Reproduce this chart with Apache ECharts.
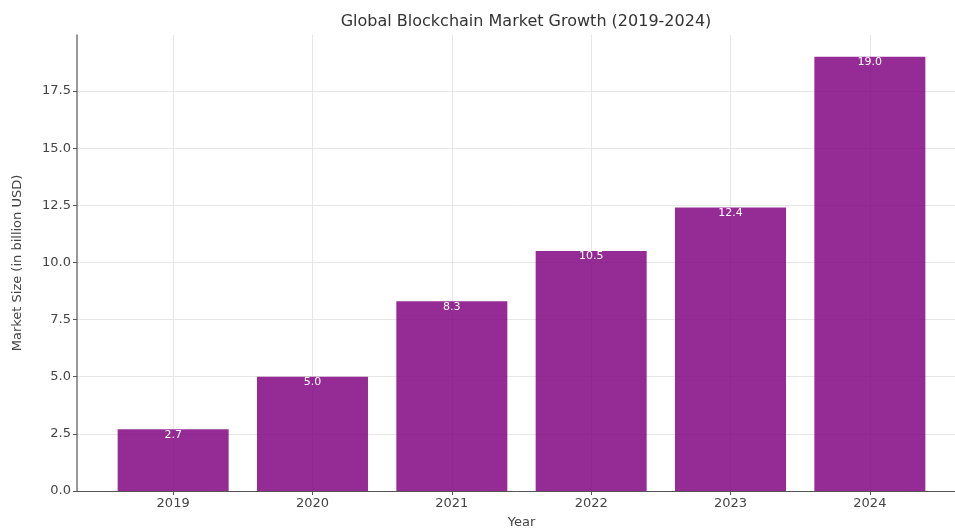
<!DOCTYPE html>
<html>
<head>
<meta charset="utf-8">
<script src="https://cdn.jsdelivr.net/npm/echarts@6/dist/echarts.min.js"></script>
<style>html,body{margin:0;padding:0;background:#fff}#c{width:955px;height:528px}</style>
</head>
<body>
<div id="c"></div>
<script>
const categories = ['2019', '2020', '2021', '2022', '2023', '2024'];
const marketSize = [2.7, 5.0, 8.3, 10.5, 12.4, 19.0];
const yTicks = [0, 2.5, 5, 7.5, 10, 12.5, 15, 17.5];

const font = 'DejaVu Sans';
const chart = echarts.init(document.getElementById('c'), null, {renderer: 'canvas'});
const xPositions = categories.map((_, i) => i);
chart.setOption({
  animation: false,
  backgroundColor: '#ffffff',
  title: {
    text: 'Global Blockchain Market Growth (2019-2024)',
    left: 521, top: 9, textAlign: 'center',
    textStyle: {fontFamily: font, fontSize: 16, fontWeight: 'normal', color: '#333'}
  },
  grid: {left: 77, right: -11, top: 35, bottom: 37, containLabel: false, outerBoundsMode: 'none'},
  xAxis: {
    type: 'value', min: -0.69, max: 5.69,
    name: 'Year', nameLocation: 'middle', nameGap: 25,
    nameTextStyle: {fontFamily: font, fontSize: 13, color: '#444'},
    axisLine: {show: true, onZero: false, lineStyle: {color: '#555', width: 1}},
    axisTick: {show: true, customValues: xPositions, length: 4, lineStyle: {color: '#555'}},
    axisLabel: {customValues: xPositions, fontFamily: font, fontSize: 13, color: '#444', margin: 6,
      formatter: v => categories[Math.round(v)] || ''},
    splitLine: {show: true, lineStyle: {color: '#e6e6e6', width: 1}}
  },
  yAxis: {
    type: 'value', min: 0, max: 19.95,
    name: 'Market Size (in billion USD)', nameLocation: 'middle', nameGap: 53,
    nameTextStyle: {fontFamily: font, fontSize: 13, color: '#444'},
    axisLine: {show: true, onZero: false, lineStyle: {color: '#777', width: 1.5}},
    axisTick: {show: true, customValues: yTicks, length: 4, lineStyle: {color: '#555'}},
    axisLabel: {customValues: yTicks, fontFamily: font, fontSize: 13, color: '#444', margin: 6,
      formatter: v => v.toFixed(1)},
    splitLine: {show: true, lineStyle: {color: '#e6e6e6', width: 1}}
  },
  series: [{
    type: 'bar',
    data: marketSize.map((v, i) => [i, v]),
    barWidth: 111,
    itemStyle: {color: 'rgba(128,0,128,0.83)'},
    label: {
      show: true, position: 'insideTop', distance: 0, offset: [0, 0],
      fontFamily: font, fontSize: 11, color: '#ffffff',
      formatter: p => p.value[1].toFixed(1)
    }
  }]
});
</script>
</body>
</html>
